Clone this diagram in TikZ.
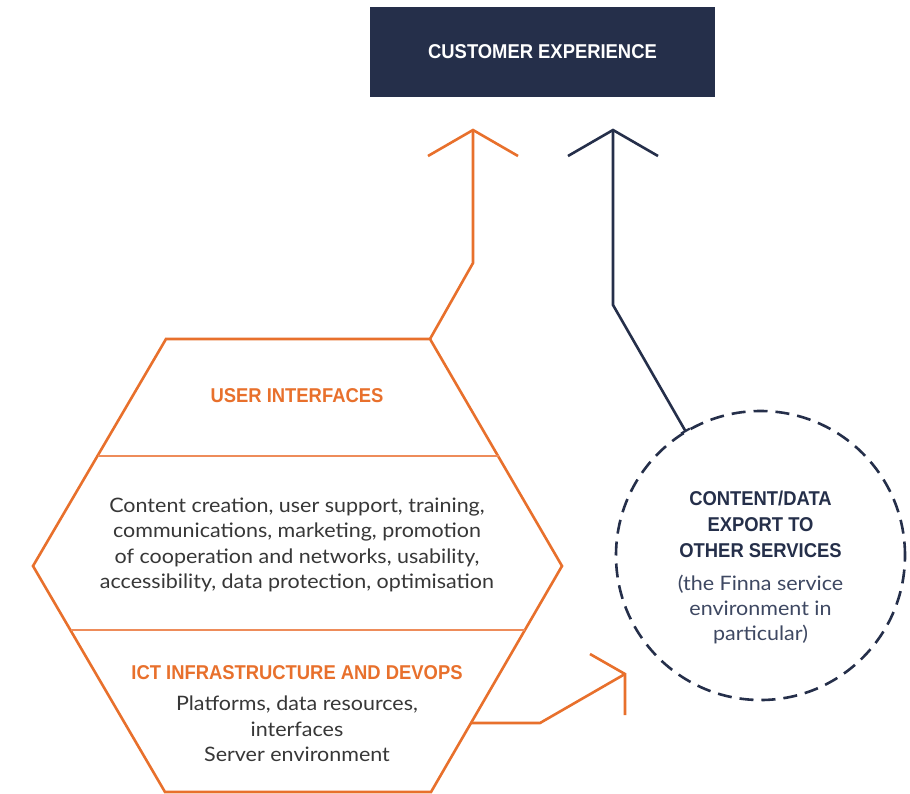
\documentclass[tikz,border=0pt]{standalone}
\usepackage{fontspec}
\setmainfont[FakeStretch=1.08]{Lato}
\newfontfamily\headfont[FakeStretch=0.92]{Liberation Sans}
\usetikzlibrary{arrows.meta}
\definecolor{orng}{RGB}{232,112,44}
\definecolor{orngl}{RGB}{238,140,90}
\definecolor{navy}{RGB}{37,47,74}
\definecolor{navyt}{RGB}{62,72,98}
\definecolor{bodyt}{RGB}{55,55,55}
\tikzset{
  orangeline/.style={draw=orng, line width=2.6pt, line join=miter},
  divider/.style={draw=orngl, line width=1.8pt},
  navyline/.style={draw=navy, line width=2.6pt, line join=miter},
  head/.style={font=\headfont\bfseries\fontsize{20}{26}\selectfont, align=center, inner sep=0pt},
  body/.style={font=\fontsize{19.9}{25.3}\selectfont, text=bodyt, align=center, inner sep=0pt},
}
\begin{document}
\begin{tikzpicture}[x=1pt,y=-1pt]
\useasboundingbox (0,0) rectangle (910,793);
\fill[white] (0,0) rectangle (910,793);
% customer experience box
\node[fill=navy, minimum width=345pt, minimum height=90pt, inner sep=0pt] (cx) at (542.5,52) {};
\node[head, text=white] (cxt) at (542.5,52) {CUSTOMER EXPERIENCE};
% hexagon
\coordinate (hTL) at (166,339);
\coordinate (hTR) at (430,339);
\coordinate (hR) at (562,566);
\coordinate (hBR) at (431,792);
\coordinate (hBL) at (165,792);
\coordinate (hL) at (33,566);
\draw[orangeline] (hTL) -- (hTR) -- (hR) -- (hBR) -- (hBL) -- (hL) -- cycle;
\coordinate (d1l) at (97.5,456);
\coordinate (d1r) at (498.5,456);
\coordinate (d2l) at (70.7,630);
\coordinate (d2r) at (525,630);
\draw[divider] (d1l) -- (d1r);
\draw[divider] (d2l) -- (d2r);
\node[head, text=orng] (ui) at (297,396) {USER INTERFACES};
\node[body] (uib) at (297,545) {Content creation, user support, training,\\communications, marketing, promotion\\of cooperation and networks, usability,\\accessibility, data protection, optimisation};
\node[head, text=orng] (ict) at (297,673) {ICT INFRASTRUCTURE AND DEVOPS};
\node[body] (ictb) at (297,729) {Platforms, data resources,\\interfaces\\Server environment};
% circle
\node[circle, draw=navy, line width=2.6pt, dash pattern=on 14pt off 8pt, minimum size=289pt, inner sep=0pt] (circ) at (760.5,555.5) {};
\node[head, text=navy] (ct) at (760.5,524) {CONTENT/DATA\\EXPORT TO\\OTHER SERVICES};
\node[body, text=navyt] (cb) at (760.5,609.5) {(the Finna service\\environment in\\particular)};
% orange arrow up
\coordinate (oa1) at (473,263);
\coordinate (oatip) at (473,130);
\coordinate (oaL) at (428,156);
\coordinate (oaR) at (518,156);
\draw[orangeline] (hTR) -- (oa1) -- (oatip);
\draw[orangeline] (oaL) -- (oatip) -- (oaR);
% navy arrow up
\coordinate (nstart) at (686,432);
\coordinate (n1) at (613,305);
\coordinate (ntip) at (613,130);
\coordinate (nL) at (568,156);
\coordinate (nR) at (658,156);
\draw[navyline, {Bar[width=10pt,line width=2.2pt]}-] (nstart) -- (n1) -- (ntip);
\draw[navyline] (nL) -- (ntip) -- (nR);
% orange arrow to circle
\coordinate (ob0) at (470.5,723);
\coordinate (ob1) at (540,723);
\coordinate (obtip) at (625,674);
\coordinate (obA) at (590,654);
\coordinate (obB) at (625,715);
\draw[orangeline] (ob0) -- (ob1) -- (obtip);
\draw[orangeline] (obA) -- (obtip) -- (obB);
\end{tikzpicture}
\end{document}
